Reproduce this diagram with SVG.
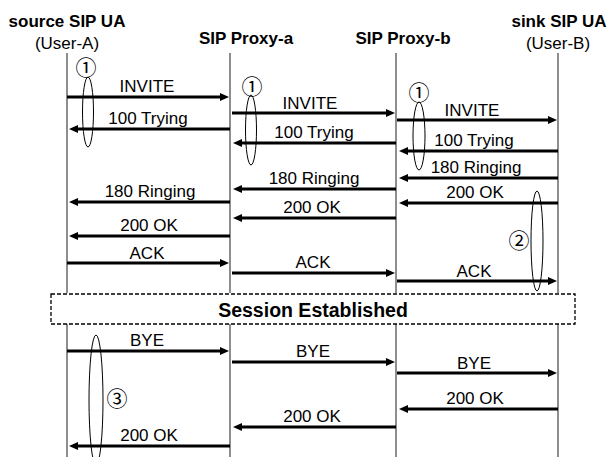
<svg xmlns="http://www.w3.org/2000/svg" width="611" height="457" viewBox="0 0 611 457">
<style>
.hdr{font-family:"Liberation Sans",Arial,sans-serif;font-size:17px;font-weight:bold;text-anchor:middle;fill:#000}
.big{font-family:"Liberation Sans",Arial,sans-serif;font-size:19.5px;font-weight:bold;text-anchor:middle;fill:#000}
.sub{font-family:"Liberation Sans",Arial,sans-serif;font-size:17px;text-anchor:middle;fill:#000}
.lbl{font-family:"Liberation Sans",Arial,sans-serif;font-size:17px;text-anchor:middle;fill:#000}
.num{font-family:"Noto Sans CJK JP","DejaVu Sans",sans-serif;font-size:21px;text-anchor:middle;fill:#000}
.life{stroke:#444;stroke-width:1.2;fill:none}
.msg{stroke:#000;stroke-width:3;fill:none;marker-end:url(#ah)}
.ell{stroke:#000;stroke-width:1;fill:none}
</style>
<defs>
<marker id="ah" markerUnits="userSpaceOnUse" viewBox="0 0 9 8" refX="0" refY="4" markerWidth="9" markerHeight="8" orient="auto">
<path d="M0,0 L9,4 L0,8 z" fill="#000"/>
</marker>
</defs>
<rect width="611" height="457" fill="#fff"/>

<g id="userA">
<text class="hdr" x="67" y="27">source SIP UA</text>
<text class="sub" x="67" y="49">(User-A)</text>
<path class="life" d="M67,53 V293 M67,324 V457"/>
</g>
<g id="proxyA">
<text class="hdr" x="246" y="44">SIP Proxy-a</text>
<path class="life" d="M230,53 V293 M230,324 V457"/>
</g>
<g id="proxyB">
<text class="hdr" x="403" y="44">SIP Proxy-b</text>
<path class="life" d="M396,53 V293 M396,324 V457"/>
</g>
<g id="userB">
<text class="hdr" x="559" y="27">sink SIP UA</text>
<text class="sub" x="558" y="49">(User-B)</text>
<path class="life" d="M558,53 V293 M558,324 V457" stroke="#777"/>
</g>

<g id="session">
<rect x="51" y="294" width="524" height="30" fill="none" stroke="#000" stroke-width="1.3" stroke-dasharray="4,2"/>
<text class="big" x="313" y="317">Session Established</text>
</g>

<g id="connectors">
<line class="msg" x1="67" y1="97" x2="220" y2="97"/>
<line class="msg" x1="230" y1="129" x2="78" y2="129"/>
<line class="msg" x1="232" y1="113" x2="386" y2="113"/>
<line class="msg" x1="396" y1="143" x2="242" y2="143"/>
<line class="msg" x1="397" y1="120" x2="548" y2="120"/>
<line class="msg" x1="558" y1="151" x2="408" y2="151"/>
<line class="msg" x1="558" y1="178" x2="408" y2="178"/>
<line class="msg" x1="396" y1="189" x2="242" y2="189"/>
<line class="msg" x1="558" y1="203" x2="408" y2="203"/>
<line class="msg" x1="230" y1="202" x2="78" y2="202"/>
<line class="msg" x1="396" y1="218" x2="242" y2="218"/>
<line class="msg" x1="230" y1="236" x2="78" y2="236"/>
<line class="msg" x1="67" y1="263" x2="220" y2="263"/>
<line class="msg" x1="232" y1="273" x2="386" y2="273"/>
<line class="msg" x1="397" y1="281" x2="548" y2="281"/>
<line class="msg" x1="67" y1="351" x2="220" y2="351"/>
<line class="msg" x1="232" y1="362" x2="386" y2="362"/>
<line class="msg" x1="397" y1="373" x2="548" y2="373"/>
<line class="msg" x1="558" y1="409" x2="408" y2="409"/>
<line class="msg" x1="396" y1="427" x2="242" y2="427"/>
<line class="msg" x1="230" y1="446" x2="78" y2="446"/>
</g>

<g id="labels">
<text class="lbl" x="147" y="92">INVITE</text>
<text class="lbl" x="148" y="124">100 Trying</text>
<text class="lbl" x="310" y="109">INVITE</text>
<text class="lbl" x="314" y="138">100 Trying</text>
<text class="lbl" x="472" y="116">INVITE</text>
<text class="lbl" x="474" y="146">100 Trying</text>
<text class="lbl" x="476" y="173">180 Ringing</text>
<text class="lbl" x="314" y="184">180 Ringing</text>
<text class="lbl" x="475" y="198">200 OK</text>
<text class="lbl" x="150" y="197">180 Ringing</text>
<text class="lbl" x="312" y="213">200 OK</text>
<text class="lbl" x="149" y="231">200 OK</text>
<text class="lbl" x="147" y="259">ACK</text>
<text class="lbl" x="313" y="268">ACK</text>
<text class="lbl" x="474" y="277">ACK</text>
<text class="lbl" x="147" y="346">BYE</text>
<text class="lbl" x="313" y="357">BYE</text>
<text class="lbl" x="474" y="369">BYE</text>
<text class="lbl" x="475" y="404">200 OK</text>
<text class="lbl" x="312" y="422">200 OK</text>
<text class="lbl" x="149" y="441">200 OK</text>
</g>

<g id="groups">
<ellipse class="ell" cx="88" cy="112" rx="5.5" ry="35"/>
<text class="num" x="86" y="74.5">①</text>
<ellipse class="ell" cx="251" cy="130" rx="5.5" ry="35"/>
<text class="num" x="252" y="93.5">①</text>
<ellipse class="ell" cx="419" cy="136" rx="6" ry="34"/>
<text class="num" x="419" y="99.5">①</text>
<ellipse class="ell" cx="537" cy="241" rx="6" ry="50"/>
<text class="num" x="519" y="247.5">②</text>
<ellipse class="ell" cx="96" cy="400" rx="7" ry="65"/>
<text class="num" x="117" y="405.5">③</text>
</g>
</svg>
